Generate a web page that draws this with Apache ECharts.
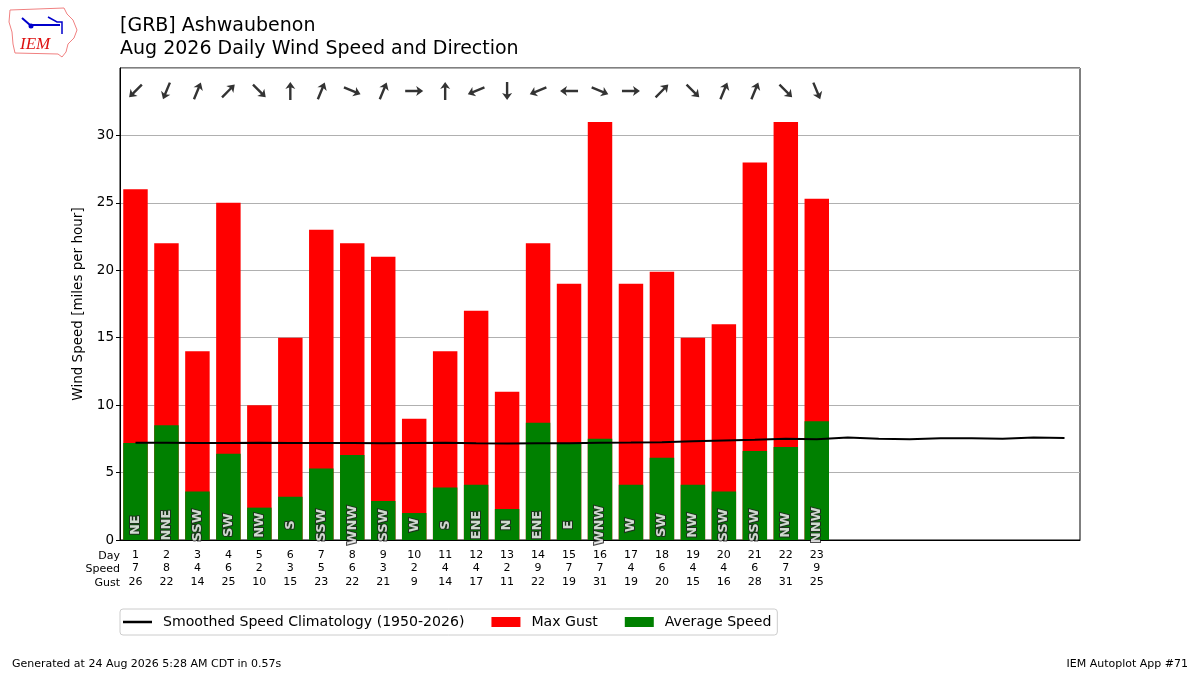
<!DOCTYPE html>
<html>
<head>
<meta charset="utf-8">
<script src="https://cdn.jsdelivr.net/npm/echarts@6/dist/echarts.min.js"></script>
<style>
  html, body { margin: 0; padding: 0; background: #fff; }
  #chart { width: 1200px; height: 675px; }
</style>
</head>
<body>
<div id="chart"></div>
<script>
// days of the month shown on the axis (whole month for the climatology)
var days = [1, 2, 3, 4, 5, 6, 7, 8, 9, 10, 11, 12, 13, 14, 15, 16, 17, 18, 19, 20, 21, 22, 23, 24, 25, 26, 27, 28, 29, 30, 31]
// observed days
var avgSpeed = [7.2, 8.5, 3.6, 6.4, 2.4, 3.2, 5.3, 6.3, 2.9, 2.0, 3.9, 4.1, 2.3, 8.7, 7.2, 7.5, 4.1, 6.1, 4.1, 3.6, 6.6, 6.9, 8.8]
var maxGust = [26, 22, 14, 25, 10, 15, 23, 22, 21, 9, 14, 17, 11, 22, 19, 31, 19, 19.9, 15, 16, 28, 31, 25.3]
var speedText = [7, 8, 4, 6, 2, 3, 5, 6, 3, 2, 4, 4, 2, 9, 7, 7, 4, 6, 4, 4, 6, 7, 9]
var gustText = [26, 22, 14, 25, 10, 15, 23, 22, 21, 9, 14, 17, 11, 22, 19, 31, 19, 20, 15, 16, 28, 31, 25]
var windDir = ['NE', 'NNE', 'SSW', 'SW', 'NW', 'S', 'SSW', 'WNW', 'SSW', 'W', 'S', 'ENE', 'N', 'ENE', 'E', 'WNW', 'W', 'SW', 'NW', 'SSW', 'SSW', 'NW', 'NNW']
// smoothed climatology 1950-2026
var climo = [7.22, 7.22, 7.2, 7.2, 7.22, 7.2, 7.2, 7.2, 7.18, 7.2, 7.22, 7.17, 7.15, 7.17, 7.18, 7.22,
    7.23, 7.25, 7.33, 7.38, 7.43, 7.5, 7.48, 7.6, 7.5, 7.48, 7.55, 7.55, 7.5, 7.6, 7.56]
var yTicks = [0, 5, 10, 15, 20, 25, 30, 35]

var compass = ['N', 'NNE', 'NE', 'ENE', 'E', 'ESE', 'SE', 'SSE', 'S', 'SSW', 'SW', 'WSW', 'W', 'WNW', 'NW', 'NNW']
var arrowY = 33.3
var labelY = 1.1

var myChart = echarts.init(document.getElementById('chart'))

// arrow points where the wind blows to
var arrowData = windDir.map(function (d, i) {
    var deg = compass.indexOf(d) * 22.5
    return { value: [i, arrowY], symbolRotate: -(deg + 180) }
})
var dirData = windDir.map(function (d, i) {
    return { value: [i, labelY], name: d }
})

var option = {
    animation: false,
    textStyle: { fontFamily: 'DejaVu Sans' },
    title: {
        text: '[GRB] Ashwaubenon\nAug 2026 Daily Wind Speed and Direction',
        left: 115,
        top: 10,
        textStyle: { fontSize: 19, fontWeight: 'normal', color: '#000', lineHeight: 23, fontFamily: 'DejaVu Sans' }
    },
    legend: {
        left: 120,
        top: 609,
        padding: [6, 6, 6, 3],
        itemWidth: 29,
        itemHeight: 10,
        itemGap: 27,
        borderColor: '#cccccc',
        borderWidth: 1,
        borderRadius: 3,
        textStyle: { fontSize: 14.1, color: '#000', fontFamily: 'DejaVu Sans', padding: [0, 0, 0, 6] },
        data: [
            { name: 'Smoothed Speed Climatology (1950-2026)', icon: 'path://M0,0 H30 V2.6 H0 Z' },
            { name: 'Max Gust', icon: 'rect' },
            { name: 'Average Speed', icon: 'rect' }
        ]
    },
    grid: {
        left: 120,
        right: 120,
        top: 68,
        bottom: 135,
        show: true,
        borderColor: '#000',
        borderWidth: 1
    },
    xAxis: {
        type: 'category',
        data: days,
        boundaryGap: true,
        axisLine: { lineStyle: { color: '#000', width: 1 } },
        axisTick: {
            alignWithLabel: true,
            length: 4,
            lineStyle: { color: '#000' },
            interval: function (index) { return index < avgSpeed.length }
        },
        axisLabel: {
            interval: 0,
            margin: 8,
            fontSize: 11,
            lineHeight: 13.5,
            color: '#000',
            formatter: function (value, index) {
                if (index >= avgSpeed.length) return ''
                return value + '\n' + speedText[index] + '\n' + gustText[index]
            }
        }
    },
    yAxis: {
        type: 'value',
        min: yTicks[0],
        max: yTicks[yTicks.length - 1],
        interval: 5,
        name: 'Wind Speed [miles per hour]',
        nameLocation: 'middle',
        nameGap: 34,
        nameTextStyle: { fontSize: 13.5, color: '#000' },
        axisLine: { show: true, lineStyle: { color: '#000' } },
        axisTick: { show: true, length: 4, lineStyle: { color: '#000' } },
        axisLabel: { fontSize: 13.5, color: '#000', margin: 6, showMaxLabel: false },
        splitLine: { show: true, lineStyle: { color: '#b0b0b0', width: 1 } }
    },
    graphic: [
        {
            type: 'text',
            x: 120,
            y: 549,
            style: {
                text: 'Day\nSpeed\nGust',
                textAlign: 'right',
                fontSize: 11,
                lineHeight: 13.5,
                fill: '#000',
                fontFamily: 'DejaVu Sans'
            }
        },
        {
            type: 'text',
            x: 12,
            y: 659,
            style: { text: 'Generated at 24 Aug 2026 5:28 AM CDT in 0.57s', fontSize: 11, fill: '#000', fontFamily: 'DejaVu Sans' }
        },
        {
            type: 'text',
            x: 1188,
            y: 659,
            style: { text: 'IEM Autoplot App #71', textAlign: 'right', fontSize: 11, fill: '#000', fontFamily: 'DejaVu Sans' }
        },
        // logo, roughly
        {
            type: 'polygon',
            shape: { points: [[10, 10], [64, 8], [67, 14], [73, 20], [77, 30], [74, 38], [68, 44], [66, 52], [62, 57], [58, 54], [15, 53], [13, 44], [12, 32], [9, 22]] },
            style: { fill: 'none', stroke: '#f08080', lineWidth: 1 }
        },
        {
            type: 'polyline',
            shape: { points: [[22, 18], [30, 25], [50, 25], [60, 25]] },
            style: { stroke: '#0000cc', lineWidth: 2, fill: 'none' }
        },
        {
            type: 'polyline',
            shape: { points: [[48, 17], [57, 22], [62, 22], [62, 34]] },
            style: { stroke: '#0000cc', lineWidth: 1.5, fill: 'none' }
        },
        {
            type: 'circle',
            shape: { cx: 31, cy: 26, r: 2.5 },
            style: { fill: '#0000cc' }
        },
        {
            type: 'text',
            x: 20,
            y: 36,
            style: { text: 'IEM', fontSize: 17, fontStyle: 'italic', fontFamily: 'Liberation Serif', fill: '#dd1111' }
        }
    ],
    series: [
        {
            name: 'Max Gust',
            type: 'bar',
            data: maxGust,
            barWidth: '79%',
            barGap: '-100%',
            itemStyle: { color: '#ff0000' },
            z: 2
        },
        {
            name: 'Average Speed',
            type: 'bar',
            data: avgSpeed,
            barWidth: '79%',
            barGap: '-100%',
            itemStyle: { color: '#008000' },
            z: 3
        },
        {
            name: 'Smoothed Speed Climatology (1950-2026)',
            type: 'line',
            data: climo,
            symbol: 'none',
            lineStyle: { color: '#000', width: 2 },
            itemStyle: { color: '#000' },
            z: 5
        },
        {
            name: 'dir',
            type: 'scatter',
            data: dirData,
            symbolSize: 1,
            itemStyle: { color: 'transparent' },
            label: {
                show: true,
                position: 'inside',
                rotate: 90,
                formatter: '{b}',
                fontSize: 13,
                fontWeight: 'bold',
                color: '#fff',
                textBorderColor: '#222',
                textBorderWidth: 2
            },
            z: 6
        },
        {
            name: 'arrows',
            type: 'scatter',
            data: arrowData,
            symbol: 'path://M0,0 L5,7 L1.2,5.6 L1.2,18 L-1.2,18 L-1.2,5.6 L-5,7 Z',
            symbolSize: [10, 18],
            itemStyle: { color: '#000' },
            z: 6
        }
    ]
}
myChart.setOption(option)
</script>
</body>
</html>
